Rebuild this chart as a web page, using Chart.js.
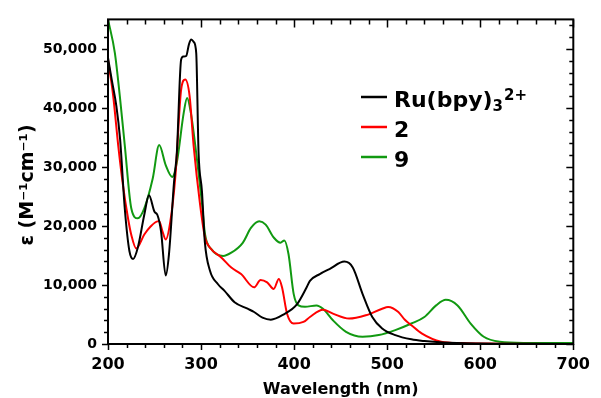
<!DOCTYPE html>
<html>
<head>
<meta charset="utf-8">
<script src="https://cdn.jsdelivr.net/npm/chart.js@4/dist/chart.umd.min.js"></script>
<style>
  html, body { margin: 0; padding: 0; background: #fff; }
  #wrap { width: 601px; height: 398px; position: relative; }
</style>
</head>
<body>
<div id="wrap"><canvas id="c" width="601" height="398"></canvas></div>
<script>
// ---- data ----
const seriesNames = ["Ru(bpy)3 2+", "2", "9"];

const ruNm  = [200, 204, 209, 213, 218, 223, 227, 232, 239, 244, 250, 253, 257, 262, 265.5, 271, 274, 278.6, 281, 284, 287, 289.5, 292, 294.8, 297.3, 301, 304, 309.6, 318, 325, 336, 350, 357, 366, 375, 389, 403, 413.5, 417, 427.6, 438, 454, 463, 473.5, 484, 494.6, 508.7, 526, 540, 560, 600, 650, 700];
const ruEps = [48500, 44800, 40300, 34700, 23000, 15750, 14400, 16300, 21900, 25200, 22400, 21900, 19100, 11600, 15200, 27500, 32500, 48200, 48700, 48800, 50800, 51600, 51200, 49300, 32500, 25800, 17400, 12400, 10170, 9050, 7090, 5980, 5420, 4470, 4130, 5030, 6700, 9600, 10700, 11850, 12700, 13960, 12960, 8500, 4580, 2630, 1510, 790, 500, 250, 80, 30, 0];

const c2Nm  = [200, 205.6, 211, 216, 221.5, 225, 230.3, 239, 246, 253, 255, 258.5, 262, 267, 272.5, 278.6, 283, 287.7, 292, 299, 304.3, 309.6, 322, 332.5, 343, 357, 364, 371, 378, 383.6, 387, 392.4, 399.5, 410, 417, 431, 441.7, 459, 477, 494.6, 501, 512, 519, 526, 537, 558, 580, 620, 700];
const c2Eps = [48200, 42000, 33600, 27000, 21300, 18500, 16200, 18550, 19950, 20780, 20800, 19100, 17700, 20780, 28600, 43100, 44800, 42000, 33600, 23580, 18000, 16300, 14630, 12950, 11850, 9600, 10840, 10440, 9330, 11010, 9600, 5140, 3470, 3740, 4580, 5810, 5140, 4300, 4860, 5980, 6260, 5420, 4100, 3180, 1790, 390, 150, 60, 0];

const c9Nm  = [200, 207.4, 212.7, 218, 225, 232, 239, 248, 255, 262, 269, 274, 281.4, 285, 289, 293.8, 300.8, 304.3, 311.3, 323.7, 332.5, 344.8, 353.6, 362.5, 369.4, 378.3, 385.3, 389.5, 394, 399.5, 404.7, 411.7, 424, 431, 441.7, 455.8, 473.5, 491, 508.7, 526, 540, 552.6, 563, 575.6, 589.7, 603.8, 621, 650, 700];
const c9Eps = [55000, 49300, 42000, 33700, 23000, 21300, 23000, 28000, 33700, 30300, 28300, 30800, 39200, 41700, 39200, 33600, 24100, 18550, 16040, 14920, 15470, 17150, 19660, 20780, 20230, 18000, 17150, 17550, 15200, 8500, 6540, 6300, 6540, 5980, 4020, 2060, 1230, 1510, 2350, 3470, 4580, 6540, 7490, 6540, 3470, 1230, 390, 180, 150];

const xMajorTicks = [200, 300, 400, 500, 600, 700];
const yMajorTicks = [0, 10000, 20000, 30000, 40000, 50000];
const xAxisTitle = "Wavelength (nm)";
const yAxisTitle = "ε (M⁻¹cm⁻¹)";

const colors = ["#000000", "#ff0000", "#119911"];

function pts(xs, ys) { return xs.map((x, i) => ({ x: x, y: ys[i] })); }

const FONT = "'DejaVu Sans', Verdana, sans-serif";

const framePlugin = {
  id: 'frame',
  afterDraw(chart) {
    const ctx = chart.ctx;
    const a = chart.chartArea;
    const xs = chart.scales.x, ys = chart.scales.y;
    ctx.save();
    ctx.strokeStyle = '#000';
    ctx.lineWidth = 2;
    ctx.strokeRect(a.left, a.top, a.right - a.left, a.bottom - a.top);
    ctx.lineWidth = 1.5;
    ctx.beginPath();
    // x ticks every 20 nm
    for (let v = 200; v <= 700; v += 20) {
      const p = Math.round(xs.getPixelForValue(v)) + 0.5;
      const major = (v % 100 === 0);
      // bottom outward
      ctx.moveTo(p, a.bottom); ctx.lineTo(p, a.bottom + (major ? 6 : 4));
      // top inward
      ctx.moveTo(p, a.top); ctx.lineTo(p, a.top + (major ? 8 : 5));
    }
    for (let v = 0; v <= 54000; v += 2000) {
      const p = Math.round(ys.getPixelForValue(v)) + 0.5;
      const major = (v % 10000 === 0);
      ctx.moveTo(a.left, p); ctx.lineTo(a.left - (major ? 6 : 4), p);
      ctx.moveTo(a.right, p); ctx.lineTo(a.right - (major ? 7 : 4), p);
    }
    ctx.stroke();

    // axis titles
    ctx.fillStyle = '#000';
    ctx.font = "bold 16px " + FONT;
    ctx.textAlign = 'center';
    ctx.textBaseline = 'alphabetic';
    ctx.fillText(xAxisTitle, (a.left + a.right) / 2, 394);

    ctx.save();
    ctx.translate(33, 185);
    ctx.rotate(-Math.PI / 2);
    ctx.font = "bold 19px " + FONT;
    ctx.textAlign = 'center';
    ctx.fillText(yAxisTitle, 0, 0);
    ctx.restore();

    // legend
    const lx0 = 361, lx1 = 387, tx = 394;
    const rows = [97, 127, 157];
    ctx.lineWidth = 2.5;
    chart.data.datasets.forEach((ds, i) => {
      ctx.strokeStyle = ds.borderColor;
      ctx.beginPath();
      ctx.moveTo(lx0, rows[i]); ctx.lineTo(lx1, rows[i]);
      ctx.stroke();
    });
    ctx.textAlign = 'left';
    ctx.fillStyle = '#000';
    ctx.font = "bold 22px " + FONT;
    // Ru(bpy)3 2+
    let base = rows[0] + 9.5;
    ctx.fillText("Ru(bpy)", tx, base);
    let w = ctx.measureText("Ru(bpy)").width;
    ctx.font = "bold 15px " + FONT;
    ctx.fillText("3", tx + w, base + 4);
    let w3 = ctx.measureText("3").width;
    ctx.fillText("2+", tx + w + w3 + 1, base - 7);
    ctx.font = "bold 22px " + FONT;
    ctx.fillText("2", tx, rows[1] + 9.5);
    ctx.fillText("9", tx, rows[2] + 9.5);
    ctx.restore();
  }
};

const lineDs = (label, data, color) => ({
  label: label,
  data: data,
  borderColor: color,
  backgroundColor: color,
  borderWidth: 2,
  pointRadius: 0,
  fill: false,
  tension: 0.4,
  cubicInterpolationMode: 'monotone'
});

new Chart(document.getElementById('c'), {
  type: 'line',
  data: {
    datasets: [
      lineDs(seriesNames[0], pts(ruNm, ruEps), colors[0]),
      lineDs(seriesNames[1], pts(c2Nm, c2Eps), colors[1]),
      lineDs(seriesNames[2], pts(c9Nm, c9Eps), colors[2])
    ]
  },
  options: {
    responsive: false,
    animation: false,
    devicePixelRatio: 1,
    layout: { padding: { left: 0, right: 20, top: 16, bottom: 0 } },
    plugins: { legend: { display: false }, tooltip: { enabled: false } },
    scales: {
      x: {
        type: 'linear',
        min: 200, max: 700,
        afterFit(s) { s.height = 54; },
        afterBuildTicks(s) { s.ticks = xMajorTicks.map(v => ({ value: v })); },
        grid: { display: false, drawTicks: false },
        border: { display: false },
        ticks: {
          padding: 11,
          maxRotation: 0,
          autoSkip: false,
          color: '#000',
          font: { family: FONT, size: 16, weight: 'bold' },
          callback: v => String(v)
        }
      },
      y: {
        type: 'linear',
        min: 0, max: 55000,
        afterFit(s) { s.width = 108; },
        afterBuildTicks(s) { s.ticks = yMajorTicks.map(v => ({ value: v })); },
        grid: { display: false, drawTicks: false },
        border: { display: false },
        ticks: {
          padding: 11,
          autoSkip: false,
          color: '#000',
          font: { family: FONT, size: 14, weight: 'bold' },
          callback: v => Number(v).toLocaleString('en-US')
        }
      }
    }
  },
  plugins: [framePlugin]
});
</script>
</body>
</html>
